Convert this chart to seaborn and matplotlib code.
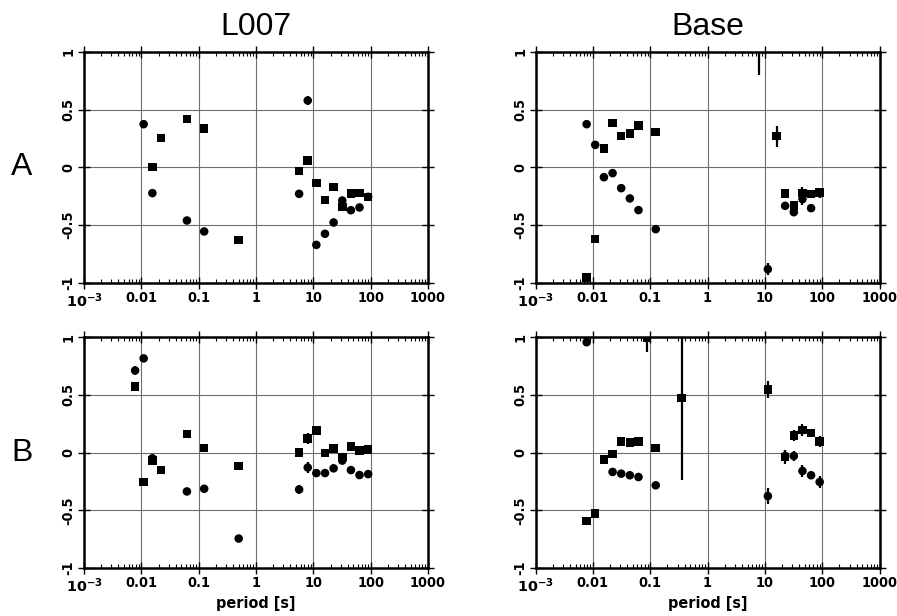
import numpy as np
import pandas as pd
import matplotlib
matplotlib.use("Agg")
import matplotlib.pyplot as plt
import seaborn as sns
from matplotlib.ticker import LogLocator, NullFormatter, FixedLocator

# ---------------- data ----------------
# Panel A, L007
A_L007_circ_T = [0.011, 0.0156, 0.0625, 0.125, 5.66, 8, 11.3, 16, 22.6, 32, 45.3, 64, 90.5]
A_L007_circ_v = [0.375, -0.222, -0.459, -0.554, -0.228, 0.58, -0.67, -0.574, -0.476, -0.286, -0.37, -0.346, -0.254]
A_L007_circ_e = [0, 0, 0, 0, 0, 0.04, 0, 0, 0, 0, 0, 0, 0]
A_L007_sq_T = [0.0156, 0.0221, 0.0625, 0.125, 0.5, 5.66, 8, 11.3, 16, 22.6, 32, 45.3, 64, 90.5]
A_L007_sq_v = [0.006, 0.254, 0.421, 0.338, -0.626, -0.029, 0.06, -0.136, -0.28, -0.17, -0.343, -0.225, -0.219, -0.254]
A_L007_sq_e = [0, 0, 0, 0, 0, 0, 0.035, 0, 0, 0, 0, 0, 0, 0]

# Panel A, Base
A_Base_circ_T = [0.0078, 0.011, 0.0156, 0.0221, 0.03125, 0.0442, 0.0625, 0.125, 11.3, 22.6, 32, 45.3, 64, 90.5]
A_Base_circ_v = [0.375, 0.196, -0.084, -0.049, -0.179, -0.268, -0.369, -0.534, -0.88, -0.332, -0.387, -0.274, -0.352, -0.222]
A_Base_circ_e = [0.02, 0, 0, 0, 0, 0, 0, 0, 0.05, 0.03, 0.03, 0.05, 0, 0.04]
A_Base_sq_T = [0.0078, 0.011, 0.0156, 0.0221, 0.03125, 0.0442, 0.0625, 0.125, 8, 16, 22.6, 32, 45.3, 64, 90.5]
A_Base_sq_v = [-0.952, -0.62, 0.164, 0.384, 0.274, 0.294, 0.364, 0.306, 1.1, 0.271, -0.225, -0.329, -0.222, -0.231, -0.216]
A_Base_sq_e = [0.02, 0, 0, 0, 0, 0, 0, 0, 0.3, 0.09, 0.03, 0.04, 0.05, 0, 0.03]

# Panel B, L007
B_L007_circ_T = [0.0078, 0.011, 0.0156, 0.0625, 0.125, 0.5, 5.66, 8, 11.3, 16, 22.6, 32, 45.3, 64, 90.5]
B_L007_circ_v = [0.71, 0.815, -0.05, -0.337, -0.314, -0.745, -0.32, -0.13, -0.178, -0.178, -0.137, -0.07, -0.152, -0.195, -0.187]
B_L007_circ_e = [0.04, 0, 0.02, 0, 0, 0, 0.04, 0.05, 0, 0, 0, 0.02, 0, 0, 0]
B_L007_sq_T = [0.0078, 0.011, 0.0156, 0.0221, 0.0625, 0.125, 0.5, 5.66, 8, 11.3, 16, 22.6, 32, 45.3, 64, 90.5]
B_L007_sq_v = [0.57, -0.256, -0.07, -0.152, 0.16, 0.039, -0.117, 0.0, 0.12, 0.193, -0.004, 0.033, -0.04, 0.051, 0.016, 0.025]
B_L007_sq_e = [0.04, 0, 0, 0, 0, 0, 0, 0.04, 0.05, 0, 0, 0, 0, 0, 0, 0]

# Panel B, Base
B_Base_circ_T = [0.0078, 0.0221, 0.03125, 0.0442, 0.0625, 0.125, 11.3, 22.6, 32, 45.3, 64, 90.5]
B_Base_circ_v = [0.955, -0.168, -0.183, -0.197, -0.212, -0.284, -0.377, -0.03, -0.03, -0.16, -0.197, -0.255]
B_Base_circ_e = [0.02, 0.03, 0, 0, 0, 0, 0.07, 0.05, 0.04, 0.05, 0.03, 0.05]
B_Base_sq_T = [0.0078, 0.011, 0.0156, 0.0221, 0.03125, 0.0442, 0.0625, 0.088, 0.125, 0.354, 11.3, 22.6, 32, 45.3, 64, 90.5]
B_Base_sq_v = [-0.594, -0.53, -0.061, -0.012, 0.093, 0.087, 0.096, 0.99, 0.038, 0.472, 0.545, -0.04, 0.148, 0.194, 0.168, 0.096]
B_Base_sq_e = [0.03, 0, 0, 0.03, 0, 0, 0, 0.12, 0, 0.71, 0.07, 0.06, 0.05, 0.05, 0.03, 0.05]

col_titles = ["L007", "Base"]
row_labels = ["A", "B"]
x_ticks = [1e-3, 1e-2, 1e-1, 1, 10, 100, 1000]
x_ticklabels = [r"$\mathbf{10^{-3}}$", "0.01", "0.1", "1", "10", "100", "1000"]
y_ticks = [-1, -0.5, 0, 0.5, 1]
y_ticklabels = ["-1", "-0.5", "0", "0.5", "1"]
xlabel = "period [s]"

panels = {
    (0, 0): (A_L007_circ_T, A_L007_circ_v, A_L007_circ_e, A_L007_sq_T, A_L007_sq_v, A_L007_sq_e),
    (0, 1): (A_Base_circ_T, A_Base_circ_v, A_Base_circ_e, A_Base_sq_T, A_Base_sq_v, A_Base_sq_e),
    (1, 0): (B_L007_circ_T, B_L007_circ_v, B_L007_circ_e, B_L007_sq_T, B_L007_sq_v, B_L007_sq_e),
    (1, 1): (B_Base_circ_T, B_Base_circ_v, B_Base_circ_e, B_Base_sq_T, B_Base_sq_v, B_Base_sq_e),
}

# ---------------- style ----------------
sns.set_theme(style="white")
plt.rcParams["font.family"] = ["Liberation Sans", "DejaVu Sans"]
plt.rcParams["text.color"] = "black"
plt.rcParams["axes.titlecolor"] = "black"
plt.rcParams["xtick.color"] = "black"
plt.rcParams["ytick.color"] = "black"
plt.rcParams["xtick.labelcolor"] = "black"
plt.rcParams["ytick.labelcolor"] = "black"
plt.rcParams["axes.labelcolor"] = "black"
plt.rcParams["mathtext.fontset"] = "dejavusans"
tickfont = dict(family=["DejaVu Sans"], weight="bold", size=10.4, stretch="condensed")

fig = plt.figure(figsize=(8.97, 6.16), dpi=100)
lefts = [0.0936, 0.597]
bottoms = [0.5406, 0.0779]
W, H = 0.3835, 0.375

for (r, c), (cT, cv, ce, sT, sv, se) in panels.items():
    ax = fig.add_axes([lefts[c], bottoms[r], W, H])
    df = pd.concat([
        pd.DataFrame({"period": cT, "value": cv, "err": ce, "kind": "circle"}),
        pd.DataFrame({"period": sT, "value": sv, "err": se, "kind": "square"}),
    ], ignore_index=True)
    ax.set_xscale("log")
    ax.set_xlim(1e-3, 1e3)
    ax.set_ylim(-1, 1)
    ax.grid(True, which="major", color="#6e6e6e", lw=0.8, zorder=0)
    ax.set_axisbelow(True)
    eb = df[df["err"] > 0]
    ax.errorbar(eb["period"], eb["value"], yerr=eb["err"], fmt="none",
                ecolor="black", elinewidth=1.6, capsize=0, zorder=3)
    sns.scatterplot(data=df, x="period", y="value", style="kind",
                    markers={"circle": "o", "square": "s"}, color="black",
                    edgecolor="black", linewidth=0, s=38, legend=False,
                    ax=ax, zorder=4)
    ax.set_xlabel("")
    ax.set_ylabel("")
    ax.xaxis.set_major_locator(FixedLocator(x_ticks))
    ax.xaxis.set_minor_locator(LogLocator(base=10, subs=np.arange(2, 10), numticks=20))
    ax.xaxis.set_minor_formatter(NullFormatter())
    ax.set_xticks(x_ticks)
    ax.set_xticklabels(x_ticklabels, fontdict=tickfont)
    ax.set_yticks(y_ticks)
    ax.set_yticklabels(y_ticklabels, fontdict=tickfont, rotation=90, va="center")
    ax.tick_params(axis="both", which="major", direction="inout", length=8, width=1,
                   color="black", top=True, right=True, bottom=True, left=True, pad=2)
    ax.tick_params(axis="x", which="minor", direction="in", length=3, width=0.8,
                   color="black", top=True, bottom=True)
    for sp in ax.spines.values():
        sp.set_visible(True)
        sp.set_color("black")
        sp.set_linewidth(1.8)
    if r == 0:
        ax.set_title(col_titles[c], fontsize=23, pad=12, color="black")
    if r == 1:
        ax.set_xlabel(xlabel, fontdict=dict(family=["DejaVu Sans"], stretch="condensed",
                                             weight="bold", size=11.5), labelpad=1)
    if c == 0:
        ax.text(-0.18, 0.5, row_labels[r], transform=ax.transAxes, fontsize=23,
                ha="center", va="center", color="black")

fig.savefig("out.png", dpi=100)
